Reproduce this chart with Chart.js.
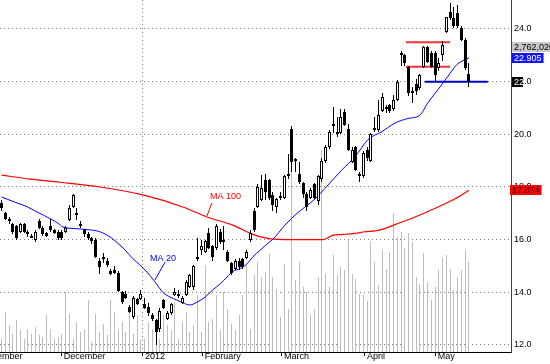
<!DOCTYPE html>
<html>
<head>
<meta charset="utf-8">
<script src="https://cdn.jsdelivr.net/npm/chart.js@4.4.1/dist/chart.umd.min.js"></script>
<style>
  html, body { margin: 0; padding: 0; background: #fff; }
  #wrap { width: 550px; height: 364px; }
</style>
</head>
<body>
<div id="wrap"><canvas id="priceChart" width="550" height="364"></canvas></div>
<script>
// daily candles, index 0 = first session on screen (early Nov 2011)
const opens = [
  17.4, 17.0, 16.8, 16.6, 16.5, 16.3, 16.6, 16.3, 16.15, 16.0,
  16.7, 16.45, 16.25, 16.5, 16.35, 16.3, 16.3, 16.3, 16.75, 17.25,
  17.0, 16.6, 16.35, 16.2, 16.05, 16.0, 15.2, 15.35, 15.2, 14.8,
  14.85, 14.75, 14.0, 13.95, 13.45, 13.05, 13.75, 13.75, 13.55, 13.45,
  13.15, 12.95, 12.6, 13.7, 13.0, 13.2, 13.9, 13.95, 13.6, 13.9,
  14.2, 14.2, 15.3, 15.6, 15.55, 16.25, 15.75, 15.7, 16.3, 16.0,
  15.55, 15.1, 14.9, 15.2, 15.25, 15.3, 16.0, 17.1, 17.25, 17.5,
  18.25, 18.25, 17.7, 17.25, 17.6, 17.6, 18.5, 20.2, 19.0, 18.5,
  18.15, 17.75, 17.6, 18.1, 17.45, 18.3, 19.0, 19.5, 20.3, 20.1,
  20.05, 20.85, 20.2, 18.95, 19.5, 18.5, 18.4, 19.4, 19.0, 20.15,
  20.15, 20.9, 21.0, 21.1, 20.95, 21.3, 23.05, 23.0, 22.55, 21.6,
  21.9, 21.75, 22.55, 23.3, 23.1, 23.1, 22.5, 23.0, 23.9, 24.65,
  24.4, 24.6, 24.05, 23.6, 22.3
];
const highs = [
  17.5, 17.05, 16.85, 16.65, 16.55, 16.65, 16.65, 16.35, 16.2, 16.35,
  16.8, 16.5, 16.3, 16.8, 16.4, 16.35, 16.35, 16.5, 17.3, 17.75,
  17.2, 16.7, 16.4, 16.3, 16.1, 16.05, 15.3, 15.5, 15.3, 14.9,
  15.0, 14.8, 14.05, 14.05, 13.5, 13.85, 13.8, 14.1, 13.8, 13.6,
  13.2, 13.0, 13.4, 13.75, 13.3, 13.6, 14.15, 14.1, 13.85, 14.45,
  14.7, 15.05, 16.05, 16.0, 16.0, 16.45, 15.8, 16.6, 16.4, 16.5,
  15.6, 15.15, 15.25, 15.3, 15.3, 15.6, 16.35, 17.2, 18.1, 18.45,
  18.5, 18.3, 17.8, 17.6, 17.8, 18.45, 19.25, 20.3, 19.1, 18.95,
  18.2, 17.8, 17.95, 18.15, 18.45, 19.1, 19.6, 20.15, 21.05, 20.65,
  20.95, 20.95, 20.4, 19.5, 19.55, 18.55, 19.35, 19.5, 20.05, 20.65,
  21.3, 21.55, 21.1, 21.15, 21.5, 22.05, 23.15, 23.05, 22.6, 21.8,
  22.1, 22.3, 23.35, 23.35, 23.15, 23.15, 22.9, 23.55, 24.45, 25.0,
  24.85, 24.9, 24.1, 23.65, 22.7
];
const lows = [
  17.1, 16.75, 16.6, 16.2, 16.0, 16.25, 16.25, 16.1, 16.05, 15.9,
  16.4, 16.15, 16.1, 16.3, 16.2, 16.0, 16.0, 16.25, 16.7, 17.2,
  16.75, 16.45, 16.1, 16.0, 15.85, 15.3, 14.7, 15.1, 14.95, 14.65,
  14.7, 14.0, 13.55, 13.75, 13.2, 13.0, 13.5, 13.7, 13.35, 13.1,
  12.9, 12.0, 12.5, 13.35, 12.95, 13.15, 13.85, 13.8, 13.55, 13.85,
  14.15, 14.1, 15.2, 15.4, 15.5, 15.65, 15.2, 15.6, 15.85, 15.6,
  15.15, 14.65, 14.85, 14.85, 14.9, 15.25, 15.9, 16.3, 17.2, 17.45,
  17.5, 17.5, 17.1, 17.0, 17.5, 17.55, 18.3, 18.55, 18.55, 18.1,
  17.6, 17.1, 17.55, 17.55, 17.3, 18.2, 18.9, 19.45, 20.05, 19.9,
  20.0, 20.3, 19.35, 18.9, 18.6, 18.2, 18.35, 19.0, 18.95, 20.1,
  20.1, 20.85, 20.8, 20.8, 20.9, 21.25, 22.6, 22.6, 21.45, 21.2,
  21.5, 21.7, 22.5, 22.7, 22.5, 22.0, 22.4, 22.8, 23.85, 24.35,
  24.05, 24.05, 23.55, 22.45, 21.8
];
const closes = [
  17.2, 16.8, 16.7, 16.3, 16.05, 16.6, 16.3, 16.2, 16.1, 16.3,
  16.45, 16.2, 16.15, 16.35, 16.25, 16.05, 16.05, 16.45, 17.2, 17.7,
  16.95, 16.5, 16.2, 16.05, 15.95, 15.35, 14.95, 15.3, 15.05, 14.7,
  14.75, 14.05, 13.65, 13.8, 13.25, 13.8, 13.55, 13.95, 13.4, 13.2,
  13.0, 12.5, 13.3, 13.4, 13.2, 13.55, 14.0, 13.85, 13.8, 14.4,
  14.65, 15.0, 15.35, 15.75, 15.95, 15.7, 15.35, 16.5, 15.9, 15.95,
  15.2, 14.75, 15.2, 14.95, 14.95, 15.55, 16.25, 16.35, 18.0, 17.95,
  17.8, 17.6, 17.3, 17.55, 17.65, 18.4, 18.4, 18.95, 19.05, 18.2,
  17.75, 17.25, 17.9, 17.6, 18.4, 19.0, 19.5, 20.1, 20.4, 20.05,
  20.65, 20.35, 19.4, 19.4, 18.65, 18.4, 19.3, 19.1, 20.0, 20.25,
  20.75, 21.4, 21.05, 20.9, 21.3, 22.0, 23.1, 22.7, 21.55, 21.65,
  21.65, 22.25, 23.3, 22.75, 22.55, 22.25, 22.7, 23.4, 24.45, 24.4,
  24.1, 24.1, 23.6, 22.5, 22.0
];
// volume, thousand shares
const volumes = [
  399, 1228, 829, 553, 982, 675, 399, 706, 553, 768,
  522, 461, 1136, 706, 399, 461, 553, 1842, 1167, 399,
  921, 614, 706, 1596, 307, 1167, 614, 860, 522, 1596,
  1228, 675, 921, 614, 1167, 553, 1136, 368, 399, 921,
  706, 553, 399, 1136, 829, 675, 1535, 399, 921, 1228,
  614, 829, 1750, 614, 2671, 921, 1013, 1750, 675, 1842,
  1320, 860, 675, 1136, 1750, 2671, 706, 2364, 2763, 2303,
  2456, 3009, 2303, 1934, 1075, 2702, 1320, 5802, 2210, 2763,
  1996, 1842, 1136, 1320, 2303, 6201, 2395, 1996, 2978, 2364,
  2610, 2517, 3438, 2395, 2241, 1781, 1750, 1566, 3408, 2763,
  2057, 3131, 2548, 3070, 4267, 3531, 3684, 3193, 3653, 3377,
  2303, 2088, 3039, 2149, 1596, 1996, 2517, 2886, 2978, 2548,
  1903, 2303, 2517, 3131, 2762.02
];

// moving averages (session index, value)
const ma20Idx = [0, 3.6, 6.8, 9.4, 12.9, 15, 16.3, 19.5, 23.5, 26.1, 28.8, 30.6, 32.8, 34.9, 36.7, 38.6, 40.7, 42.8, 44.7, 46.6, 48.1, 50, 51.9, 54, 56.1, 58, 59.8, 61.4, 63.3, 65.1, 66.7, 68.6, 70.4, 72, 75.2, 77.9, 80.5, 83.2, 85.8, 90.3, 93.8, 97.2, 100.9, 104.4, 107.8, 111, 113.1, 115.8, 118.4, 120.8, 124];
const ma20Val = [17.62, 17.42, 17.25, 17.05, 16.8, 16.62, 16.48, 16.42, 16.37, 16.3, 16.1, 15.9, 15.6, 15.27, 15.04, 14.77, 14.4, 14.0, 13.82, 13.7, 13.6, 13.52, 13.63, 13.82, 14.1, 14.32, 14.58, 14.8, 14.9, 15.08, 15.35, 15.6, 15.83, 16.02, 16.55, 16.94, 17.24, 17.55, 17.95, 18.65, 19.15, 19.8, 20.1, 20.43, 20.6, 20.73, 21.2, 21.7, 22.2, 22.65, 22.905];
const ma100Idx = [0, 7.6, 15.5, 26.1, 37.5, 48.1, 54.5, 61.4, 66.7, 72, 79.2, 85.3, 88, 90.6, 93.8, 96.4, 99.1, 101.2, 104.4, 109.7, 115.8, 120.3, 124];
const ma100Val = [18.45, 18.3, 18.18, 18.0, 17.7, 17.24, 16.86, 16.55, 16.2, 16.02, 16.0, 16.0, 16.17, 16.2, 16.24, 16.3, 16.33, 16.4, 16.57, 16.86, 17.24, 17.55, 17.874];

// axis labels
const monthIdx = [-6, 16, 37.5, 53.4, 74.4, 96.4, 115.2];
const monthLabels = ['November', 'December', '2012', 'February', 'March', 'April', 'May'];
const priceTicks = [12, 14, 16, 18, 20, 22, 24];

// hand-drawn level lines
const redLevels = [23.5, 22.57];
const redSpan = [107.3, 119];
const blueLevel = 22.0;
const blueSpan = [112.3, 129];

const FONT = "'Liberation Sans', Arial, sans-serif";
Chart.defaults.font.family = FONT;
Chart.defaults.font.size = 9;
Chart.defaults.color = '#000';

const pts = (xs, ys) => xs.map((x, i) => ({ x: x, y: ys[i] }));
const flat = (span, v) => [{ x: span[0], y: v }, { x: span[1], y: v }];

// keep thin bars on whole pixels so they stay crisp
const snapBars = {
  id: 'snapBars',
  afterDatasetsUpdate(chart) {
    chart.data.datasets.forEach((ds, di) => {
      if (ds.type !== 'bar') return;
      chart.getDatasetMeta(di).data.forEach(el => {
        el.x = Math.floor(el.x) + 0.5;
        el.y = Math.round(el.y);
        el.base = Math.round(el.base);
        if (ds.minBody && Math.abs(el.base - el.y) < ds.minBody) el.base = el.y + ds.minBody;
      });
    });
  }
};

const maNotes = [
  { text: 'MA 100', color: '#ff0000', at: [55.3, 17.62], from: [54.5, 16.9], to: [55.8, 17.39] },
  { text: 'MA 20', color: '#0000ff', at: [39.4, 15.3], from: [40.7, 14.47], to: [43.4, 15.15] }
];

const annotations = {
  id: 'annotations',
  afterDatasetsDraw(chart) {
    const ctx = chart.ctx, xs = chart.scales.x, ys = chart.scales.y;
    ctx.save();
    ctx.font = '9px ' + FONT;
    ctx.textBaseline = 'middle';
    ctx.textAlign = 'left';
    maNotes.forEach(n => {
      ctx.strokeStyle = n.color;
      ctx.lineWidth = 1;
      ctx.beginPath();
      ctx.moveTo(xs.getPixelForValue(n.from[0]), ys.getPixelForValue(n.from[1]));
      ctx.lineTo(xs.getPixelForValue(n.to[0]), ys.getPixelForValue(n.to[1]));
      ctx.stroke();
      ctx.fillStyle = n.color;
      ctx.fillText(n.text, xs.getPixelForValue(n.at[0]), ys.getPixelForValue(n.at[1]));
    });
    ctx.restore();
  },
  afterDraw(chart) {
    const ctx = chart.ctx, ys = chart.scales.y;
    const area = chart.chartArea;
    const left = area.right;
    ctx.save();
    // frame on the price side
    ctx.strokeStyle = '#404040';
    ctx.lineWidth = 1;
    ctx.beginPath();
    ctx.moveTo(Math.round(left) + 0.5, area.top);
    ctx.lineTo(Math.round(left) + 0.5, area.bottom);
    ctx.stroke();

    ctx.font = '9px ' + FONT;
    ctx.textBaseline = 'middle';
    ctx.textAlign = 'left';
    const box = (cy, text, bg, fg, x0) => {
      const w = ctx.measureText(text).width + 4;
      const top = Math.round(cy) - 5;
      ctx.fillStyle = bg;
      ctx.fillRect(x0, top, w, 10);
      ctx.fillStyle = fg;
      ctx.fillText(text, x0 + 2, top + 5.5);
    };
    const ma20Last = ma20Val[ma20Val.length - 1];
    const ma100Last = ma100Val[ma100Val.length - 1];
    const volLast = Math.round(volumes[volumes.length - 1] * 1000);
    const blueY = ys.getPixelForValue(ma20Last);
    box(ys.getPixelForValue(ma100Last), ma100Last.toFixed(3), '#ff0000', '#300000', left - 1);
    box(blueY, ma20Last.toFixed(3), '#1414ff', '#fff', left + 1);
    box(blueY - 11, volLast.toLocaleString('en-US'), '#c8c8c8', '#000', left + 1);

    // last close marker over the price label
    const lastClose = closes[closes.length - 1];
    const cy = Math.round(ys.getPixelForValue(lastClose));
    const lbl = lastClose.toFixed(1);
    const tx = left + 3;
    const bw = ctx.measureText(lbl.slice(0, 2)).width;
    ctx.fillStyle = '#000';
    ctx.fillRect(left + 1, cy - 5, bw + 1, 10);
    ctx.beginPath();
    ctx.rect(left + 1, cy - 5, bw + 1, 10);
    ctx.clip();
    ctx.fillStyle = '#fff';
    ctx.fillText(lbl, tx, cy + 0.5);
    ctx.restore();
  }
};

const ctx = document.getElementById('priceChart').getContext('2d');
new Chart(ctx, {
  type: 'bar',
  data: {
    datasets: [
      {
        type: 'bar',
        label: 'body',
        data: opens.map((o, i) => ({ x: i, y: [o, closes[i]] })),
        backgroundColor: opens.map((o, i) => closes[i] >= o ? '#ffffff' : '#000000'),
        borderColor: '#000',
        borderWidth: 1,
        borderSkipped: false,
        barThickness: 3,
        minBody: 2,
        inflateAmount: 0,
        grouped: false,
        yAxisID: 'y',
        order: 0
      },
      {
        type: 'bar',
        label: 'wick',
        data: lows.map((l, i) => ({ x: i, y: [l, highs[i]] })),
        backgroundColor: '#000',
        borderWidth: 0,
        barThickness: 1,
        minBody: 1,
        inflateAmount: 0,
        grouped: false,
        yAxisID: 'y',
        order: 1
      },
      {
        type: 'line',
        label: 'levels',
        data: flat(redSpan, redLevels[0]),
        borderColor: '#ff3030',
        borderWidth: 2,
        pointRadius: 0,
        yAxisID: 'y',
        order: 2
      },
      {
        type: 'line',
        label: 'levels2',
        data: flat(redSpan, redLevels[1]),
        borderColor: '#ff3030',
        borderWidth: 2,
        pointRadius: 0,
        yAxisID: 'y',
        order: 2
      },
      {
        type: 'line',
        label: 'support',
        data: flat(blueSpan, blueLevel),
        borderColor: '#0000c8',
        borderWidth: 2,
        pointRadius: 0,
        yAxisID: 'y',
        order: 2
      },
      {
        type: 'line',
        label: 'MA 20',
        data: pts(ma20Idx, ma20Val),
        borderColor: '#0000ff',
        borderWidth: 1,
        pointRadius: 0,
        cubicInterpolationMode: 'monotone',
        yAxisID: 'y',
        order: 3
      },
      {
        type: 'line',
        label: 'MA 100',
        data: pts(ma100Idx, ma100Val),
        borderColor: '#ff0000',
        borderWidth: 1.2,
        pointRadius: 0,
        cubicInterpolationMode: 'monotone',
        yAxisID: 'y',
        order: 3
      },
      {
        type: 'bar',
        label: 'volume',
        data: volumes.map((v, i) => ({ x: i, y: v })),
        backgroundColor: '#bdbdbd',
        borderWidth: 0,
        barThickness: 1,
        inflateAmount: 0,
        grouped: false,
        yAxisID: 'vol',
        order: 10
      }
    ]
  },
  options: {
    responsive: false,
    animation: false,
    events: [],
    layout: { padding: 0 },
    plugins: { legend: { display: false }, tooltip: { enabled: false } },
    scales: {
      x: {
        type: 'linear',
        min: -0.4,
        max: 135.15,
        offset: false,
        afterBuildTicks: s => { s.ticks = monthIdx.map(v => ({ value: v })); },
        afterFit: s => { s.height = 12; s.paddingLeft = 0; s.paddingRight = 0; },
        ticks: {
          autoSkip: false,
          maxRotation: 0,
          align: 'start',
          labelOffset: 2,
          padding: -5,
          callback: (v, i) => monthLabels[i]
        },
        grid: {
          offset: false,
          color: c => (c.tick && c.tick.value === 37.5) ? '#808080' : 'rgba(0,0,0,0)',
          tickColor: '#000',
          tickLength: 4
        },
        border: { display: true, color: '#000', dash: [1, 3] }
      },
      y: {
        position: 'right',
        min: 11.734,
        max: 25.1,
        afterBuildTicks: s => { s.ticks = priceTicks.map(v => ({ value: v })); },
        afterFit: s => { s.width = 39; s.paddingTop = 0; s.paddingBottom = 0; },
        ticks: { padding: 3, callback: v => Number(v).toFixed(1) },
        grid: { color: '#808080', drawTicks: false },
        border: { display: true, color: '#404040', dash: [1, 3] }
      },
      vol: {
        display: false,
        min: 0,
        max: 10806
      }
    }
  },
  plugins: [snapBars, annotations]
});
</script>
</body>
</html>
